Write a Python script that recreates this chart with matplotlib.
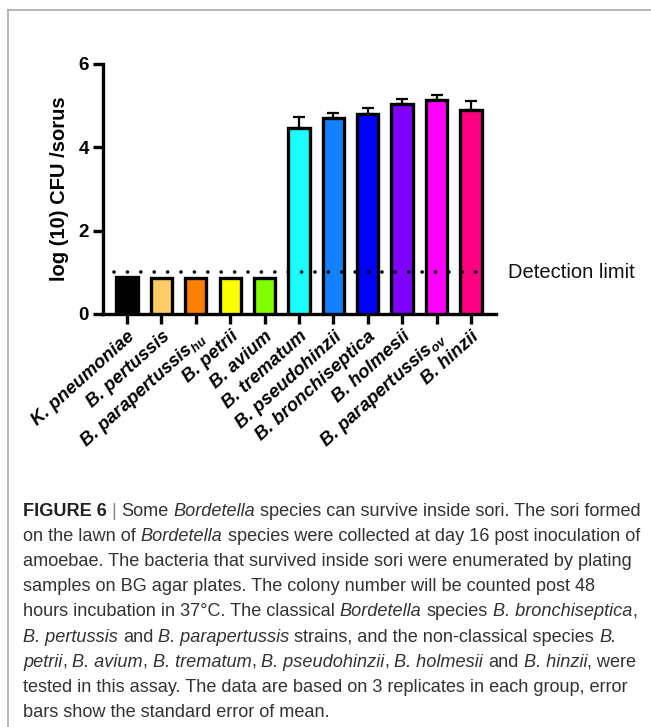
import matplotlib
matplotlib.use("Agg")
import matplotlib.pyplot as plt
from matplotlib import font_manager
from matplotlib.lines import Line2D

# data
species = [
    "K. pneumoniae", "B. pertussis", "B. parapertussis$_{\\mathregular{hu}}$",
    "B. petrii", "B. avium", "B. trematum", "B. pseudohinzii",
    "B. bronchiseptica", "B. holmesii", "B. parapertussis$_{\\mathregular{ov}}$",
    "B. hinzii",
]
log_cfu = [0.88, 0.87, 0.87, 0.87, 0.86, 4.47, 4.71, 4.81, 5.03, 5.14, 4.90]
sem = [0, 0, 0, 0, 0, 0.25, 0.12, 0.14, 0.12, 0.12, 0.21]
bar_colors = ["#000000", "#FFCC66", "#FF7F00", "#FFFF00", "#80FF00", "#1AFFFF",
              "#1380FF", "#0000FF", "#8000FF", "#FF00FF", "#FF0080"]
detection_limit = 1.0
y_ticks = [0, 2, 4, 6]

# caption: list of lines, each a list of (text, style)
caption_lines = [
    [("FIGURE 6", "bold"), (" | ", "bar"), ("Some ", "n"), ("Bordetella", "i"),
     (" species can survive inside sori. The sori formed", "n")],
    [("on the lawn of ", "n"), ("Bordetella", "i"),
     (" species were collected at day 16 post inoculation of", "n")],
    [("amoebae. The bacteria that survived inside sori were enumerated by plating", "n")],
    [("samples on BG agar plates. The colony number will be counted post 48", "n")],
    [("hours incubation in 37°C. The classical ", "n"), ("Bordetella", "i"),
     (" species ", "n"), ("B. bronchiseptica", "i"), (",", "n")],
    [("B. pertussis", "i"), (" and ", "n"), ("B. parapertussis", "i"),
     (" strains, and the non-classical species ", "n"), ("B.", "i")],
    [("petrii", "i"), (", ", "n"), ("B. avium", "i"), (", ", "n"), ("B. trematum", "i"),
     (", ", "n"), ("B. pseudohinzii", "i"), (", ", "n"), ("B. holmesii", "i"),
     (" and ", "n"), ("B. hinzii", "i"), (", were", "n")],
    [("tested in this assay. The data are based on 3 replicates in each group, error", "n")],
    [("bars show the standard error of mean.", "n")],
]

W, H = 651, 727
installed = {f.name for f in font_manager.fontManager.ttflist}
chart_font = "Liberation Sans"
cap_font = "Liberation Sans Narrow" if "Liberation Sans Narrow" in installed else "Liberation Sans"

fig = plt.figure(figsize=(W / 100, H / 100), dpi=100)

# axes placement in pixels: left spine x=103, right end x=496, y0 at 314, y6 at 64
ax = fig.add_axes([103 / W, 1 - 314 / H, (496 - 103) / W, 250 / H])
x = list(range(len(species)))
ax.bar(x, log_cfu, width=0.62, color=bar_colors, edgecolor="black",
       linewidth=2.4, zorder=3)
err_x = [i for i in x if sem[i] > 0]
ax.errorbar(err_x, [log_cfu[i] for i in err_x],
            yerr=[[0] * len(err_x), [sem[i] for i in err_x]],
            fmt="none", ecolor="black", elinewidth=1.6, capsize=4.5, capthick=1.6,
            zorder=2)

ax.plot([-0.37, 10.49], [detection_limit, detection_limit], color="black", lw=2.6,
        linestyle=(0, (0.01, 3.7)), dash_capstyle="round", clip_on=False, zorder=5)
ax.text(11.07, detection_limit, "Detection limit", fontsize=14.5, va="center",
        ha="left", family=chart_font, color="#111111")

ax.set_xlim(-0.7, 10.73)
ax.set_ylim(0, 6)
ax.set_yticks(y_ticks)
ax.set_yticklabels([str(t) for t in y_ticks], fontsize=13.5, fontweight="bold",
                   family=chart_font)
ax.set_xticks(x)
ax.set_xticklabels(species, rotation=42, ha="right", rotation_mode="anchor",
                   fontsize=13.2, fontweight="bold", fontstyle="italic",
                   family=chart_font)
ax.set_ylabel("log (10) CFU /sorus", fontsize=14.5, fontweight="bold",
              family=chart_font, labelpad=7)
for side in ["top", "right"]:
    ax.spines[side].set_visible(False)
for side in ["left", "bottom"]:
    ax.spines[side].set_linewidth(2.4)
ax.tick_params(axis="both", width=2.4, length=7, direction="out", pad=3)

# grey frame of the figure panel (top and left edges)
fig.add_artist(Line2D([8 / W, 1], [1 - 10 / H, 1 - 10 / H], color="#aaaaaa", lw=1.2))
fig.add_artist(Line2D([8 / W, 8 / W], [0, 1 - 10 / H], color="#aaaaaa", lw=1.2))

# caption, laid out segment by segment
renderer = fig.canvas.get_renderer()


def seg_props(style, size):
    props = dict(fontsize=size, family=cap_font, color="#333333")
    if style == "bold":
        props.update(fontweight="bold", color="#222222")
    elif style == "i":
        props.update(fontstyle="italic")
    elif style == "bar":
        props.update(color="#888888")
    return props


def text_width(s, props):
    t = fig.text(0, 0, s, **props)
    w = t.get_window_extent(renderer).width
    t.remove()
    return w


def space_width(props):
    return text_width("x x", props) - text_width("xx", props)


def draw_line(segments, x0, y0, size, draw=True):
    xp = x0
    for s, style in segments:
        props = seg_props(style, size)
        sp = space_width(props)
        lead = len(s) - len(s.lstrip(" "))
        trail = len(s) - len(s.rstrip(" "))
        core = s.strip(" ")
        xp += lead * sp
        if core:
            if draw:
                fig.text(xp / W, 1 - y0 / H, core, ha="left", va="baseline", **props)
            xp += text_width(core, props)
        xp += trail * sp
    return xp - x0


base = 12
first_w = draw_line(caption_lines[0], 0, 0, base, draw=False)
cap_size = base * 619 / first_w
for k, line in enumerate(caption_lines):
    draw_line(line, 23, 516 + k * 25.1, cap_size)

fig.savefig("out.png", dpi=100)
